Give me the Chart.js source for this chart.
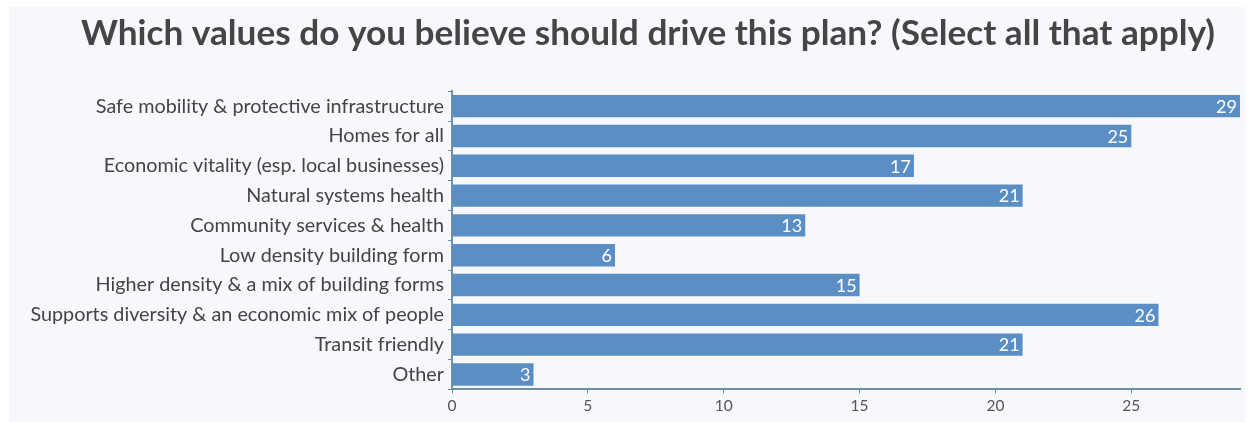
<!DOCTYPE html>
<html>
<head>
<meta charset="utf-8">
<script src="https://cdn.jsdelivr.net/npm/chart.js@4"></script>
<style>
    body { margin: 0; background: #ffffff; }
    #panel { position: absolute; left: 9px; top: 7px; width: 1236px; height: 415px; background: #f7f8fb; }
    #wrap { position: absolute; left: 0; top: 0; width: 1255px; height: 422px; }
</style>
</head>
<body>
<div id="panel"></div>
<div id="wrap"><canvas id="valuesChart"></canvas></div>
<script>
// Survey answers, top to bottom as shown
const categories = [
    'Safe mobility & protective infrastructure',
    'Homes for all',
    'Economic vitality (esp. local businesses)',
    'Natural systems health',
    'Community services & health',
    'Low density building form',
    'Higher density & a mix of building forms',
    'Supports diversity & an economic mix of people',
    'Transit friendly',
    'Other'
];
const responses = [29, 25, 17, 21, 13, 6, 15, 26, 21, 3];
const xTicks = [0, 5, 10, 15, 20, 25];

const FONT = 'Lato, "Source Sans Pro", "Open Sans", sans-serif';
const AXIS_COLOR = '#6f8faa';

// White value labels inside the end of each bar
const barValues = {
    id: 'barValues',
    afterDatasetsDraw(chart) {
        const ctx = chart.ctx;
        const meta = chart.getDatasetMeta(0);
        ctx.save();
        ctx.font = '18px ' + FONT;
        ctx.fillStyle = '#ffffff';
        ctx.textAlign = 'right';
        ctx.textBaseline = 'middle';
        meta.data.forEach((bar, i) => {
            ctx.fillText(String(responses[i]), bar.x - 3, bar.y + 1);
        });
        ctx.restore();
    }
};

// The title sits a bit right of the canvas centre in the original
const titleShift = {
    id: 'titleShift',
    afterLayout(chart) {
        const t = chart.titleBlock;
        if (!t) return;
        t.left += 28;
        t.right += 28;
    }
};

const ctx = document.getElementById('valuesChart');
new Chart(ctx, {
    type: 'bar',
    data: {
        labels: categories,
        datasets: [{
            data: responses,
            backgroundColor: '#5b8ec5',
            borderWidth: 0,
            barPercentage: 0.75,
            categoryPercentage: 1
        }]
    },
    options: {
        indexAxis: 'y',
        responsive: true,
        maintainAspectRatio: false,
        animation: false,
        layout: {
            padding: { left: 0, right: 15, top: 0, bottom: 4 }
        },
        plugins: {
            legend: { display: false },
            tooltip: { enabled: false },
            title: {
                display: true,
                text: 'Which values do you believe should drive this plan? (Select all that apply)',
                color: '#454545',
                font: { family: FONT, size: 35.2, weight: 'bold' },
                padding: { top: 13, bottom: 36 }
            }
        },
        scales: {
            x: {
                min: 0,
                max: 29,
                afterBuildTicks(scale) {
                    scale.ticks = xTicks.map(v => ({ value: v }));
                },
                ticks: {
                    color: '#555555',
                    font: { family: FONT, size: 15.5 },
                    padding: 3
                },
                grid: {
                    drawOnChartArea: false,
                    tickLength: 4,
                    color: AXIS_COLOR
                },
                border: { color: AXIS_COLOR, width: 2 }
            },
            y: {
                afterFit(scale) {
                    // keep the axis line at x = 452
                    scale.width = 452;
                },
                ticks: {
                    color: '#444444',
                    font: { family: FONT, size: 19.8 },
                    padding: 4
                },
                grid: {
                    drawOnChartArea: false,
                    tickLength: 4,
                    color: AXIS_COLOR
                },
                border: { color: AXIS_COLOR, width: 2 }
            }
        }
    },
    plugins: [barValues, titleShift]
});
</script>
</body>
</html>
